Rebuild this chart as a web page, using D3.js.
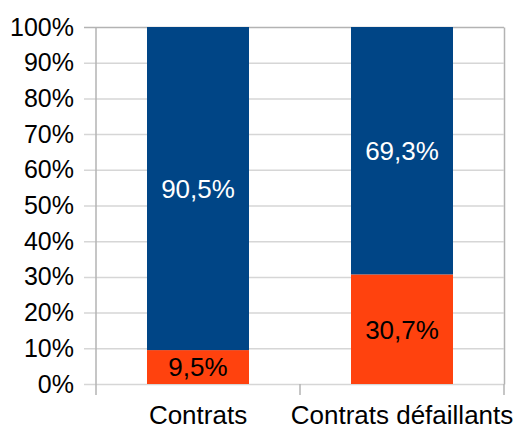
<!DOCTYPE html>
<html>
<head>
<meta charset="utf-8">
<script src="https://cdn.jsdelivr.net/npm/d3@7"></script>
<style>
  html, body { margin: 0; padding: 0; background: #fff; }
  svg { display: block; font-family: "Liberation Sans", Arial, sans-serif; }
</style>
</head>
<body>
<svg class="canvas" width="517" height="428"></svg>
<script>
'use strict';

// data
const categories = ['Contrats', 'Contrats défaillants'];
const defaultShare = [9.5, 30.7];   // orange, bottom
const otherShare = [90.5, 69.3];    // blue, top
const yTicks = [0, 10, 20, 30, 40, 50, 60, 70, 80, 90, 100];
const seriesKeys = ['low', 'high'];
const seriesColors = { low: '#ff420e', high: '#004586' };
const labelColors = { low: '#000', high: '#fff' };

const padding = { top: 27, right: 13, bottom: 44, left: 96 },
  width = 517,
  height = 428,
  innerRight = width - padding.right,
  innerBottom = height - padding.bottom;

const rows = categories.map((c, i) => ({
  cat: c,
  low: defaultShare[i],
  high: otherShare[i],
}));

const xScale = d3.scaleBand()
  .domain(categories)
  .range([padding.left, innerRight])
  .paddingInner(0.5)
  .paddingOuter(0.25);

// band boundaries for the x tick marks
const xEdges = d3.scaleBand().domain(categories).range([padding.left, innerRight]);

const yScale = d3.scaleLinear().domain([0, 100]).range([innerBottom, padding.top]);

const fmt = v => d3.format('.1f')(v).replace('.', ',') + '%';

const svg = d3.select('.canvas');

// gridlines + y labels (axis anchored on the right edge so the domain line is the border)
const yAxis = d3.axisLeft(yScale)
  .tickValues(yTicks)
  .tickSizeInner(innerRight - padding.left + 12)
  .tickSizeOuter(0)
  .tickPadding(10)
  .tickFormat(d => d + '%');

const gy = svg.append('g')
  .attr('class', 'y-axis')
  .attr('transform', `translate(${innerRight},0)`)
  .call(yAxis);
gy.select('.domain').attr('stroke', '#b3b3b3').attr('stroke-width', 1.5);
gy.selectAll('.tick line').attr('stroke', '#d6d6d6').attr('stroke-width', 1.5);
gy.selectAll('.tick')
  .filter(d => d === 100)
  .select('line')
  .attr('stroke', '#b3b3b3');
gy.selectAll('.tick text')
  .attr('fill', '#000')
  .attr('font-size', 25)
  .attr('font-family', '"Liberation Sans", Arial, sans-serif');

// x ticks at band edges
const edges = categories.map(c => xEdges(c)).concat([innerRight]);
svg.append('g')
  .attr('class', 'x-ticks')
  .selectAll('line')
  .data(edges)
  .join('line')
  .attr('x1', d => d)
  .attr('x2', d => d)
  .attr('y1', innerBottom)
  .attr('y2', innerBottom + 11)
  .attr('stroke', '#b3b3b3')
  .attr('stroke-width', 1.5);

// left axis line
svg.append('line')
  .attr('x1', padding.left)
  .attr('x2', padding.left)
  .attr('y1', padding.top)
  .attr('y2', innerBottom)
  .attr('stroke', '#b3b3b3')
  .attr('stroke-width', 1.5);

// stacked bars
const stacked = d3.stack().keys(seriesKeys)(rows);

const layers = svg.append('g')
  .attr('class', 'bars')
  .selectAll('g')
  .data(stacked)
  .join('g')
  .attr('fill', s => seriesColors[s.key]);

layers.selectAll('rect')
  .data(s => s.map(d => Object.assign(d, { key: s.key })))
  .join('rect')
  .attr('x', d => xScale(d.data.cat))
  .attr('width', xScale.bandwidth())
  .attr('y', d => yScale(d[1]))
  .attr('height', d => yScale(d[0]) - yScale(d[1]));

layers.selectAll('text')
  .data(s => s)
  .join('text')
  .attr('x', d => xScale(d.data.cat) + xScale.bandwidth() / 2)
  .attr('y', d => (yScale(d[0]) + yScale(d[1])) / 2)
  .attr('dy', '0.36em')
  .attr('text-anchor', 'middle')
  .attr('font-size', 26)
  .attr('fill', d => labelColors[d.key])
  .text(d => fmt(d.data[d.key]));

// category labels
const xAxis = d3.axisBottom(xScale).tickSize(0).tickPadding(22);
const gx = svg.append('g')
  .attr('class', 'x-axis')
  .attr('transform', `translate(0,${innerBottom})`)
  .call(xAxis);
gx.select('.domain').remove();
gx.selectAll('.tick text')
  .attr('fill', '#000')
  .attr('font-size', 26)
  .attr('font-family', '"Liberation Sans", Arial, sans-serif');
</script>
</body>
</html>
